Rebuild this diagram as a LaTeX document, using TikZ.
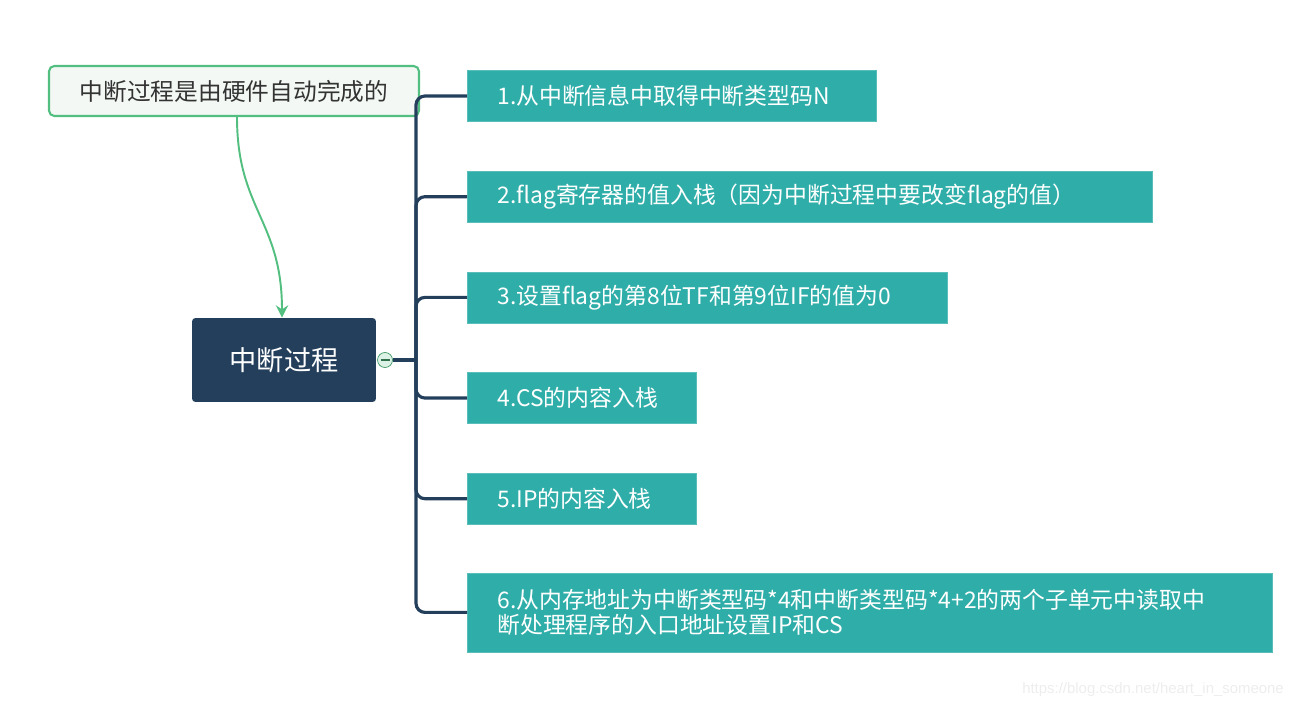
\documentclass[tikz,border=0pt]{standalone}
\usepackage{fontspec}
\setmainfont{Noto Sans CJK SC}
\newfontfamily\wmfont{Liberation Sans}
\usetikzlibrary{positioning,arrows.meta}
\definecolor{navy}{HTML}{243F5C}
\definecolor{teal}{HTML}{2FAEA9}
\definecolor{leaf}{HTML}{52BF80}
\definecolor{notefill}{HTML}{F3F8F4}
\begin{document}
\begin{tikzpicture}[
  x=0.02cm, y=-0.02cm,
  stepbox/.style={
    fill=teal,
    draw=teal!80!white,
    text=white,
    anchor=west,
    align=left,
    minimum height=1.02cm,
    inner xsep=0.6cm,
    font=\fontsize{13}{14.5}\selectfont
  },
  topic/.style={
    fill=navy,
    text=white,
    rounded corners=2pt,
    minimum width=3.68cm,
    minimum height=1.68cm,
    font=\fontsize{15.5}{18}\selectfont
  },
  note/.style={
    draw=leaf,
    fill=notefill,
    line width=1.2pt,
    rounded corners=3pt,
    text=black!80,
    minimum width=7.4cm,
    minimum height=1cm,
    font=\fontsize{13.5}{16}\selectfont
  },
  fold/.style={
    circle,
    draw=leaf!80!black,
    fill=leaf!20,
    minimum size=0.3cm,
    inner sep=0pt,
    path picture={\draw[leaf!60!black, line width=0.6pt]
      ([xshift=-0.09cm]path picture bounding box.center) --
      ([xshift=0.09cm]path picture bounding box.center);}
  },
  branch/.style={navy, line width=1.8pt, rounded corners=0.18cm},
  link/.style={-{Stealth[length=7pt,width=7pt]}, leaf, line width=1.1pt}
]
\useasboundingbox (0,0) rectangle (1297,709);

\node[topic] (topic) at (284,360) {中断过程};
\node[note] (note) at (234,91) {中断过程是由硬件自动完成的};
\node[fold] (fold) at (385,360) {};
\coordinate (hub) at (416,360);

\node[stepbox, text width=6.98cm] (s1) at (467,96) {1.从中断信息中取得中断类型码N};
\node[stepbox, text width=12.5cm, below=0.98cm of s1.south west, anchor=north west] (s2) {2.flag寄存器的值入栈（因为中断过程中要改变flag的值）};
\node[stepbox, text width=8.4cm, below=0.98cm of s2.south west, anchor=north west] (s3) {3.设置flag的第8位TF和第9位IF的值为0};
\node[stepbox, text width=3.38cm, below=0.98cm of s3.south west, anchor=north west] (s4) {4.CS的内容入栈};
\node[stepbox, text width=3.38cm, below=0.98cm of s4.south west, anchor=north west] (s5) {5.IP的内容入栈};
\node[stepbox, text width=14.9cm, below=0.96cm of s5.south west, anchor=north west, minimum height=1.58cm] (s6) {6.从内存地址为中断类型码*4和中断类型码*4+2的两个子单元中读取中\\断处理程序的入口地址设置IP和CS};

\draw[navy, line width=1.8pt] (fold) -- (hub);
\foreach \s in {s1,s2,s3,s4,s5,s6}
  \draw[branch] (hub) |- (\s.west);

\draw[link] (note.south -| 237,0) .. controls (237,210) and (282,220) .. (topic.north -| 282,0);

\node[text=black!7, font=\wmfont\fontsize{8.5}{10}\selectfont, anchor=east] (mark) at (1290,690) {https://blog.csdn.net/heart\_in\_someone};
\end{tikzpicture}
\end{document}
